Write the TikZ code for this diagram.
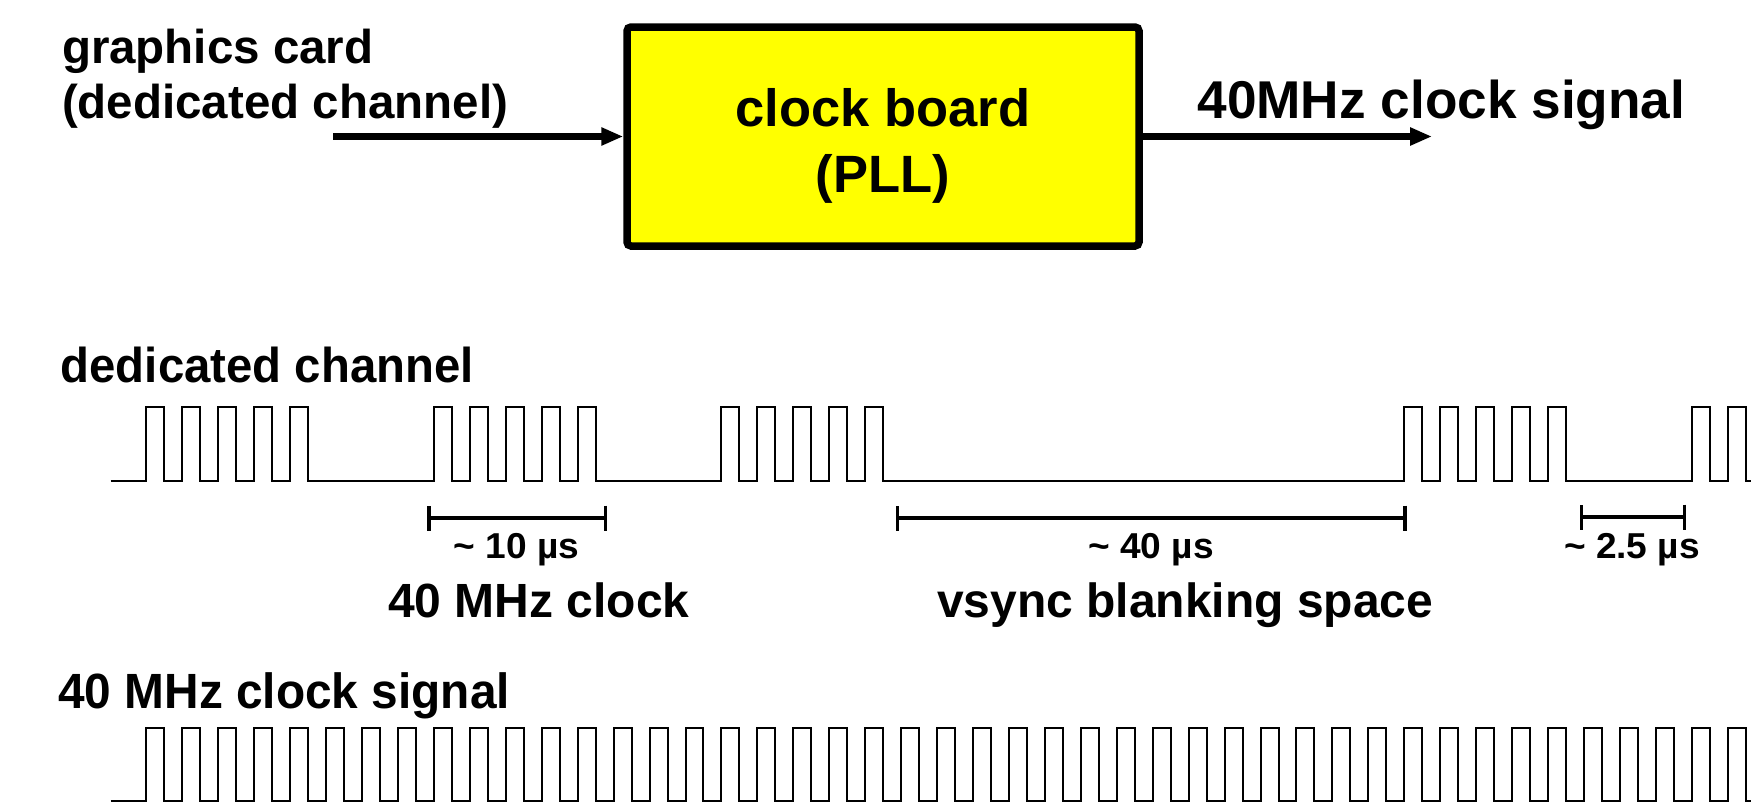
\documentclass[tikz,border=0pt]{standalone}
\usepackage{graphicx}
\usepackage{fontspec}
\setmainfont{Liberation Sans}
\usetikzlibrary{arrows.meta}
\definecolor{pllyellow}{RGB}{255,255,0}
\newcommand\fntTop{\fontsize{23.75pt}{27.5pt}\selectfont\bfseries}
\newcommand\fntOut{\fontsize{26.6pt}{30pt}\selectfont\bfseries}
\newcommand\fntBox{\fontsize{26.25pt}{33pt}\selectfont\bfseries}
\newcommand\fntMid{\fontsize{24.5pt}{28pt}\selectfont\bfseries}
\newcommand\fntSmall{\fontsize{18pt}{20pt}\selectfont\bfseries}
\begin{document}
\begin{tikzpicture}[x=0.5pt,y=-0.5pt,
  lbl/.style={inner sep=0pt, outer sep=0pt},
  wave/.style={line width=1pt, line join=miter},
  arr/.style={line width=3.2pt, -{Triangle[length=11pt,width=8.5pt]}},
  span/.style={line width=1.7pt, {Bar[width=12.5pt]}-{Bar[width=12.5pt]}},
  pllbox/.style={draw, line width=3.75pt, fill=pllyellow, rounded corners=2pt,
    minimum width=256pt, minimum height=109.5pt, inner sep=0pt},
]
\useasboundingbox (0,0) rectangle (1751,809);

% --- top block diagram ---
\node[lbl, anchor=base west, font=\fntTop] (gc1) at (62,63.3) {graphics card};
\node[lbl, anchor=base west, font=\fntTop] (gc2) at (62,118.3) {(dedicated channel)};
\node[pllbox] (pll) at (883,136.5) {};
\node[lbl, align=center, font=\fntBox] (pllt) at (883,146) {clock board\\(PLL)};
\node[lbl, anchor=base west, font=\fntOut] (outl) at (1197.5,118.3) {40MHz clock signal};
\coordinate (in) at (333,136.5);
\coordinate (out) at (1432,136.5);
\draw[arr] (in) -- (pll.west);
\draw[arr] (pll.east) -- (out);

% --- dedicated channel ---
\node[lbl, anchor=base west, font=\fntMid] (dcl) at (60.7,382.7) {\scalebox{0.966}[1]{dedicated channel}};
\draw[wave] (110.7,480.5)
  \foreach \n [evaluate=\n as \xa using {146.4+\n*35.94}] in {0,1,2,3,4,8,9,10,11,12,16,17,18,19,20,35,36,37,38,39,43,44}
  { -- (\xa,480.5) -- (\xa,407) -- (\xa+17.97,407) -- (\xa+17.97,480.5) }
  -- (1751,480.5);

% --- spans ---
\coordinate (b1l) at (427.3,518);
\coordinate (b1r) at (607.3,518);
\draw[span] (b1l) -- (b1r);
\coordinate (b2l) at (896,518);
\coordinate (b2r) at (1406.8,518);
\draw[span] (b2l) -- (b2r);
\coordinate (b3l) at (1579.5,517);
\coordinate (b3r) at (1686,517);
\draw[span] (b3l) -- (b3r);

\node[lbl, anchor=base, font=\fntSmall] (t10) at (516.7,558) {\scalebox{1.03}[1]{\textasciitilde{} 10 µs}};
\node[lbl, anchor=base, font=\fntSmall] (t40) at (1151,558) {\scalebox{1.03}[1]{\textasciitilde{} 40 µs}};
\node[lbl, anchor=base, font=\fntSmall] (t25) at (1632,558) {\scalebox{1.03}[1]{\textasciitilde{} 2.5 µs}};

\node[lbl, anchor=base west, font=\fontsize{24pt}{28pt}\selectfont\bfseries] (mhz) at (388,617) {40 MHz clock};
\node[lbl, anchor=base west, font=\fontsize{24pt}{28pt}\selectfont\bfseries] (vsb) at (937,617) {vsync blanking space};

% --- 40 MHz clock ---
\node[lbl, anchor=base west, font=\fontsize{24.75pt}{28pt}\selectfont\bfseries] (ckl) at (58.3,708.3) {\scalebox{0.966}[1]{40 MHz clock signal}};
\draw[wave] (110.7,800.7)
  \foreach \n [evaluate=\n as \xa using {146.4+\n*35.94}] in {0,...,44}
  { -- (\xa,800.7) -- (\xa,728.3) -- (\xa+17.97,728.3) -- (\xa+17.97,800.7) }
  -- (1751,800.7);
\end{tikzpicture}
\end{document}
